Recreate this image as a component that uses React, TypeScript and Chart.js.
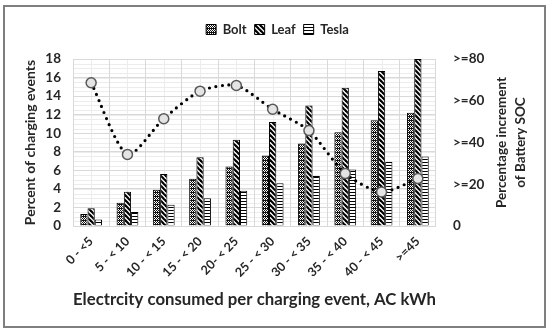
import React, { useEffect, useRef } from 'react';
import { Chart, registerables } from 'chart.js';

Chart.register(...registerables);

const categories = ['0 - <5', '5 - < 10', '10 - < 15', '15 - < 20', '20- < 25', '25 - < 30', '30 - < 35', '35 - < 40', '40 - < 45', '>=45'];
const bolt = [1.3, 2.5, 3.9, 5.1, 6.4, 7.6, 8.9, 10.1, 11.4, 12.2];
const leaf = [1.9, 3.7, 5.6, 7.4, 9.3, 11.2, 13.0, 14.9, 16.7, 18.0];
const tesla = [0.7, 1.5, 2.3, 3.0, 3.8, 4.6, 5.4, 6.1, 6.9, 7.5];
const socIncrement = [68.6, 34.3, 51.4, 64.6, 67.3, 55.9, 45.7, 25.1, 16.3, 22.7];
const seriesNames = ['Bolt', 'Leaf', 'Tesla'];
const leftTitle = 'Percent of charging events';
const rightTitle = ['Percentage increment', 'of Battery SOC'];
const xTitle = 'Electrcity consumed per charging event, AC kWh';

const FONT = 'Lato, "Open Sans", sans-serif';
const TEXT = '#262626';

function makePattern(kind: string): CanvasPattern | string {
  const c = document.createElement('canvas');
  const ctx = c.getContext('2d');
  if (!ctx) return '#888';
  if (kind === 'bolt') {
    c.width = 4; c.height = 4;
    ctx.fillStyle = '#fff';
    ctx.fillRect(0, 0, 4, 4);
    ctx.fillStyle = '#111';
    for (let x = 0; x < 4; x++) for (let y = 0; y < 4; y++) {
      if ((x + y) % 2 === 0) ctx.fillRect(x, y, 1, 1);
    }
    ctx.fillRect(0, 0, 4, 1);
  } else if (kind === 'leaf') {
    const s = 5;
    c.width = s; c.height = s;
    ctx.fillStyle = '#fff';
    ctx.fillRect(0, 0, s, s);
    ctx.strokeStyle = '#000';
    ctx.lineWidth = 2.2;
    for (let i = -2; i <= 2; i++) {
      ctx.beginPath();
      ctx.moveTo(i * s - 1, -1);
      ctx.lineTo(i * s + s + 1, s + 1);
      ctx.stroke();
    }
  } else {
    c.width = 4; c.height = 3;
    ctx.fillStyle = '#fff';
    ctx.fillRect(0, 0, 4, 3);
    ctx.fillStyle = '#000';
    ctx.fillRect(0, 0, 4, 1);
  }
  return ctx.createPattern(c, 'repeat') || '#888';
}

const decorPlugin = {
  id: 'decor',
  beforeInit(chart: any) {
    const l = chart.legend;
    if (l && !l.__patched) {
      const f = l.fit;
      l.fit = function () {
        f.call(this);
        this.height += 13;
      };
      l.__patched = true;
    }
  },
  beforeDraw(chart: any) {
    const { ctx, chartArea } = chart;
    const y = chart.scales.y;
    const x = chart.scales.x;
    ctx.save();
    ctx.strokeStyle = '#ececec';
    ctx.lineWidth = 1;
    for (let v = 0; v <= 18; v += 0.5) {
      const py = Math.round(y.getPixelForValue(v)) + 0.5;
      ctx.beginPath();
      ctx.moveTo(chartArea.left, py);
      ctx.lineTo(chartArea.right, py);
      ctx.stroke();
    }
    for (let i = 0; i < categories.length; i++) {
      const px = Math.round(x.getPixelForValue(i)) + 0.5;
      ctx.beginPath();
      ctx.moveTo(px, chartArea.top);
      ctx.lineTo(px, chartArea.bottom);
      ctx.stroke();
    }
    ctx.restore();
  },
  afterDraw(chart: any) {
    const { ctx, chartArea } = chart;
    ctx.save();
    ctx.strokeStyle = '#7f7f7f';
    ctx.lineWidth = 2;
    ctx.strokeRect(4, 6, 541, 321);
    const cy = (chartArea.top + chartArea.bottom) / 2;
    ctx.fillStyle = TEXT;
    ctx.font = `bold 13.5px ${FONT}`;
    ctx.textAlign = 'center';
    ctx.textBaseline = 'middle';
    const xs = [502, 521];
    rightTitle.forEach((line, i) => {
      ctx.save();
      ctx.translate(xs[i], cy);
      ctx.rotate(-Math.PI / 2);
      ctx.fillText(line, 0, 0);
      ctx.restore();
    });
    ctx.restore();
  },
};

export default function App() {
  const ref = useRef<HTMLCanvasElement | null>(null);
  useEffect(() => {
    document.body.style.margin = '0';
    const canvas = ref.current;
    if (!canvas) return;
    const patterns = [makePattern('bolt'), makePattern('leaf'), makePattern('tesla')];
    const seriesData = [bolt, leaf, tesla];
    const barSets = seriesNames.map((name, i) => ({
      type: 'bar' as const,
      label: name,
      data: seriesData[i],
      backgroundColor: patterns[i],
      borderColor: '#000',
      borderWidth: 1,
      yAxisID: 'y',
      order: 2,
      categoryPercentage: 0.6,
      barPercentage: 1.0,
    }));
    const chart = new Chart(canvas, {
      type: 'bar',
      data: {
        labels: categories,
        datasets: [
          ...barSets,
          {
            type: 'line' as const,
            label: 'SOC',
            data: socIncrement,
            yAxisID: 'y1',
            order: 0,
            borderColor: '#000',
            borderWidth: 3.2,
            borderDash: [0, 6.5],
            borderCapStyle: 'round',
            tension: 0.25,
            pointRadius: 5,
            pointBackgroundColor: '#e4e4e4',
            pointBorderColor: '#595959',
            pointBorderWidth: 1.5,
            fill: false,
          } as any,
        ],
      },
      options: {
        animation: false,
        responsive: false,
        layout: { padding: { top: 15, left: 20, right: 15, bottom: 20 } },
        plugins: {
          tooltip: { enabled: false },
          legend: {
            position: 'top',
            labels: {
              filter: (item: any) => item.datasetIndex < 3,
              boxWidth: 10,
              boxHeight: 10,
              padding: 8,
              color: TEXT,
              font: { family: FONT, size: 13, weight: 'bold' },
            },
          },
        },
        scales: {
          x: {
            offset: true,
            grid: { offset: true, color: '#d9d9d9', drawTicks: false },
            border: { display: false },
            ticks: {
              autoSkip: false,
              maxRotation: 45,
              minRotation: 45,
              padding: 8,
              color: TEXT,
              font: { family: FONT, size: 12.5, weight: 'bold' },
            },
            title: {
              display: true,
              text: xTitle,
              color: TEXT,
              font: { family: FONT, size: 17.5, weight: 'bold' },
              padding: { top: 4, bottom: 2 },
            },
            afterFit: (s: any) => { s.height = 86; },
          },
          y: {
            position: 'left',
            min: 0,
            max: 18,
            ticks: {
              autoSkip: false,
              stepSize: 2,
              padding: 12,
              color: TEXT,
              font: { family: FONT, size: 13.5, weight: 'bold' },
            },
            grid: { color: '#d9d9d9', drawTicks: false },
            border: { display: false },
            title: {
              display: true,
              text: leftTitle,
              color: TEXT,
              font: { family: FONT, size: 14, weight: 'bold' },
              padding: { top: 2, bottom: 0 },
            },
            afterFit: (s: any) => { s.width = 53; },
          },
          y1: {
            position: 'right',
            min: 0,
            max: 80,
            ticks: {
              autoSkip: false,
              stepSize: 20,
              padding: 17,
              color: TEXT,
              font: { family: FONT, size: 13.5, weight: 'bold' },
              callback: (v: any) => (v === 0 ? '0' : '>=' + v),
            },
            grid: { display: false, drawTicks: false },
            border: { display: false },
            afterFit: (s: any) => { s.width = 99; },
          },
        },
      },
      plugins: [decorPlugin],
    });
    return () => chart.destroy();
  }, []);
  return (
    <div style={{ width: 550, height: 332 }}>
      <canvas ref={ref} width={550} height={332} style={{ width: 550, height: 332, display: 'block' }} />
    </div>
  );
}
